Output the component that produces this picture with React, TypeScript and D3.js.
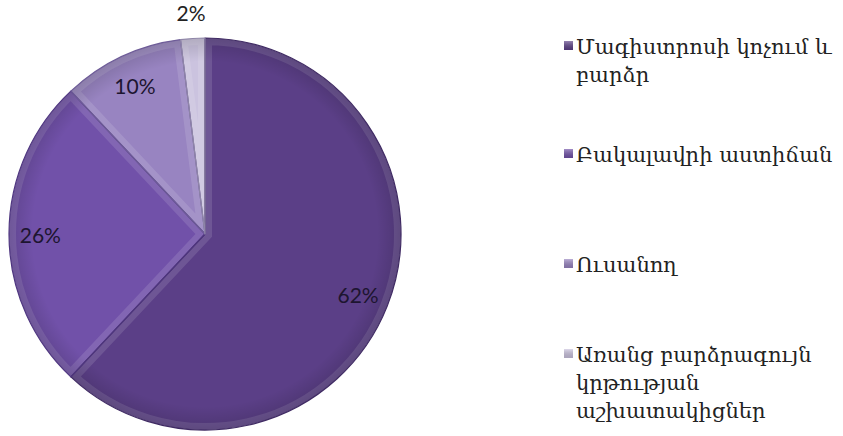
import React, { useMemo } from "react";
import * as d3 from "d3";

const categories = [
  "Մագիստրոսի կոչում և բարձր",
  "Բակալավրի աստիճան",
  "Ուսանող",
  "Առանց բարձրագույն կրթության աշխատակիցներ",
];
const values = [62, 26, 10, 2];
const labels = ["62%", "26%", "10%", "2%"];
const colors = ["#5b3f87", "#7151a9", "#9884c1", "#cbc3df"];
const edgeColors = ["#3f2a63", "#4f3680", "#6e5c98", "#8f86a8"];
const legendY = [47, 155, 265, 355];

const W = 843;
const H = 436;
const cx = 205;
const cy = 234;
const R = 196;
const LEGEND_SIZE = 21;
const LEGEND_FONT = `${LEGEND_SIZE}px 'DejaVu Serif'`;
const WRAP = 264;

function wrap(text: string): string[] {
  const canvas = document.createElement("canvas");
  const ctx = canvas.getContext("2d")!;
  ctx.font = LEGEND_FONT;
  const words = text.split(" ");
  const lines: string[] = [];
  let cur = "";
  for (const w of words) {
    const t = cur ? cur + " " + w : w;
    if (ctx.measureText(t).width > WRAP && cur) {
      lines.push(cur);
      cur = w;
    } else cur = t;
  }
  if (cur) lines.push(cur);
  return lines;
}

export default function App() {
  const pie = d3.pie<number>().sort(null).value((d) => d);
  const arcs = pie(values);
  const arc = d3.arc<d3.PieArcDatum<number>>().innerRadius(0).outerRadius(R);
  const labelArc = d3.arc<d3.PieArcDatum<number>>().innerRadius(R * 0.84).outerRadius(R * 0.84);
  const outerArc = d3.arc<d3.PieArcDatum<number>>().innerRadius(R + 26).outerRadius(R + 26);
  const wrapped = useMemo(() => categories.map(wrap), []);

  return (
    <svg width={W} height={H} style={{ position: "absolute", left: 0, top: 0, background: "#fff" }}>
      <defs>
        {arcs.map((a, i) => (
          <clipPath id={`clip${i}`} key={i}>
            <path d={arc(a)!} transform={`translate(${cx},${cy})`} />
          </clipPath>
        ))}
        <radialGradient id="shade" cx="0.5" cy="0.5" r="0.5">
          <stop offset="0.88" stopColor="#000" stopOpacity="0" />
          <stop offset="1" stopColor="#000" stopOpacity="0.15" />
        </radialGradient>
        <linearGradient id="legGrad" x1="0" y1="0" x2="0" y2="1">
          <stop offset="0" stopColor="#fff" stopOpacity="0.35" />
          <stop offset="1" stopColor="#000" stopOpacity="0.15" />
        </linearGradient>
      </defs>
      <g>
        {arcs.map((a, i) => (
          <g key={i} clipPath={`url(#clip${i})`}>
            <path d={arc(a)!} transform={`translate(${cx},${cy})`} fill={colors[i]} />
            <path
              d={arc(a)!}
              transform={`translate(${cx},${cy})`}
              fill="none"
              stroke="#ffffff"
              strokeOpacity={0.12}
              strokeWidth={14}
            />
          </g>
        ))}
        <circle cx={cx} cy={cy} r={R} fill="url(#shade)" />
        {arcs.map((a, i) => (
          <path
            key={i}
            d={arc(a)!}
            transform={`translate(${cx},${cy})`}
            fill="none"
            stroke={edgeColors[i]}
            strokeWidth={1.2}
            strokeLinejoin="round"
          />
        ))}
      </g>
      {arcs.map((a, i) => {
        const [x, y] = i === 3 ? outerArc.centroid(a) : labelArc.centroid(a);
        return (
          <text
            key={i}
            x={cx + x}
            y={cy + y}
            textAnchor="middle"
            dominantBaseline="central"
            fontFamily="Lato, 'Liberation Sans', sans-serif"
            fontSize={21}
            fill={i === 3 ? "#222" : "#1d1530"}
          >
            {labels[i]}
          </text>
        );
      })}
      {categories.map((c, i) => (
        <g key={i}>
          <rect x={564} y={legendY[i] - 6} width={9} height={9} fill={colors[i]} />
          <rect x={564} y={legendY[i] - 6} width={9} height={9} fill="url(#legGrad)" />
          {wrapped[i].map((line, j) => (
            <text
              key={j}
              x={576}
              y={legendY[i] + j * 28}
              dominantBaseline="central"
              fontFamily="'DejaVu Serif', serif"
              fontSize={LEGEND_SIZE}
              fill="#222"
            >
              {line}
            </text>
          ))}
        </g>
      ))}
    </svg>
  );
}
